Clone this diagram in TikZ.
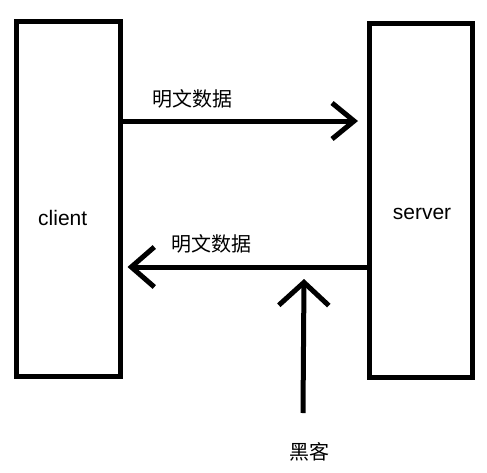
\documentclass[tikz,border=0pt]{standalone}
\usepackage{fontspec}
\setmainfont{Liberation Sans}
\newfontfamily\cjk{Noto Sans CJK SC}
\usetikzlibrary{arrows.meta}
\begin{document}
\begin{tikzpicture}[x=1pt,y=-1pt,
  box/.style={draw,line width=5pt,inner sep=0pt},
  lbl/.style={font=\fontsize{21}{21}\selectfont,anchor=base,inner sep=0pt},
  zh/.style={font=\cjk\fontsize{20}{20}\selectfont,inner sep=0pt},
  bigarrow/.style={line width=5pt,-{Straight Barb[length=22pt,width=36pt]}}]
\useasboundingbox[fill=white] (0,0) rectangle (487,472);
\node[box,minimum width=104pt,minimum height=355pt] (client) at (68,199) {};
\node[box,minimum width=103pt,minimum height=354pt] (server) at (421,200.5) {};
\node[lbl] (clientlbl) at (62.7,225) {client};
\node[lbl] (serverlbl) at (422,219.3) {server};
\node[zh] (lbltop) at (192,98.5) {明文数据};
\node[zh] (lblbot) at (211,243.5) {明文数据};
\node[zh] (hacker) at (309,452) {黑客};
\coordinate (hackstart) at (303,413);
\coordinate (hacktip) at (304,279);
\draw[bigarrow] (client.east |- 0,121) -- ([xshift=-9pt]server.west |- 0,121);
\draw[bigarrow,-{Straight Barb[length=23pt,width=40pt]}] (server.west |- 0,267) -- ([xshift=5pt]client.east |- 0,267);
\draw[bigarrow,-{Straight Barb[length=23pt,width=50pt]}] (hackstart) -- (hacktip);
\end{tikzpicture}
\end{document}
